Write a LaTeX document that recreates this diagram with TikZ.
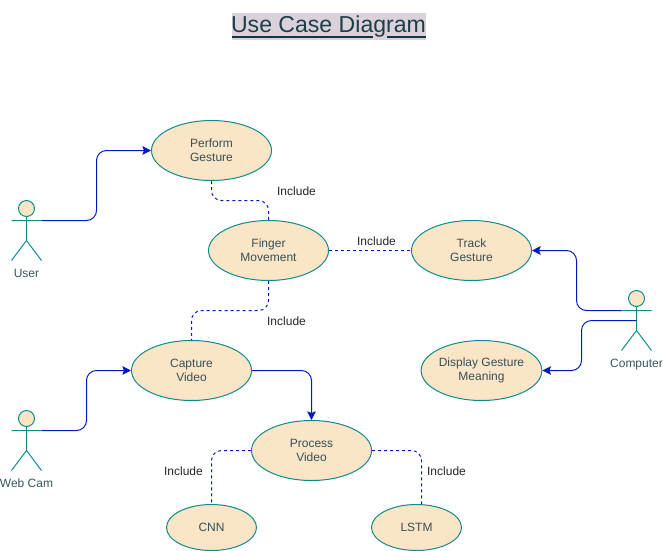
\documentclass[tikz,border=0pt]{standalone}
\usepackage{fontspec}
\setmainfont{Liberation Sans}
\usetikzlibrary{shapes.geometric,arrows.meta}
\definecolor{strokeT}{HTML}{0F8B8D}
\definecolor{fillT}{HTML}{FAE5C7}
\definecolor{textT}{HTML}{143642}
\definecolor{linkB}{HTML}{001DBC}
\definecolor{titleBg}{HTML}{DAD2D8}
\tikzset{
  x=0.75pt,y=-0.75pt,
  usecase/.style={ellipse,draw=strokeT,fill=fillT,line width=0.75pt,minimum width=90pt,minimum height=45pt,inner sep=0pt,align=center,text=textT,text opacity=0.85,font=\fontsize{9}{10.5}\selectfont},
  smallcase/.style={usecase,minimum width=67.5pt,minimum height=34.5pt},
  actorline/.style={draw=strokeT,line width=0.75pt},
  actorhead/.style={circle,draw=strokeT,fill=fillT,line width=0.75pt,minimum size=12pt,inner sep=0pt},
  actorlabel/.style={text=textT,text opacity=0.85,font=\fontsize{9}{10.5}\selectfont,inner sep=0pt,text height=6.6pt,text depth=1.9pt},
  flow/.style={draw=linkB,line width=0.75pt,rounded corners=7.5pt,-{Stealth[length=6.5pt,width=6.5pt,inset=1.2pt]}},
  incl/.style={draw=linkB,line width=0.75pt,rounded corners=7.5pt,dash pattern=on 2.25pt off 2.25pt},
  incllabel/.style={text=black,text opacity=0.85,font=\fontsize{9}{10.5}\selectfont,inner sep=0pt},
  titlerule/.style={draw=textT,line width=1.5pt}
}
\begin{document}
\begin{tikzpicture}
\useasboundingbox (-0.5,-0.5) rectangle (662.5,549.5);
% title
\fill[titleBg] (231,12) rectangle (425,39);
\node[text=textT,text opacity=0.95,font=\fontsize{17.3}{20}\selectfont,inner sep=0pt] (title) at (328,26.5) {Use Case Diagram};
\coordinate (ta) at (231,36); \coordinate (tb) at (372,36); \coordinate (tc) at (386,36); \coordinate (td) at (425,36);
\draw[titlerule] (ta) -- (tb);
\draw[titlerule] (tc) -- (td);
% use cases
\node[usecase] (perform) at (211,150) {Perform\\Gesture};
\node[usecase] (finger) at (268,250) {Finger\\Movement};
\node[usecase] (track) at (471,250) {Track\\Gesture};
\node[usecase] (display) at (481,370) {Display Gesture\\Meaning};
\node[usecase] (capture) at (191,370) {Capture\\Video};
\node[usecase] (process) at (311,450) {Process\\Video};
\node[smallcase] (cnn) at (211,527) {CNN};
\node[smallcase] (lstm) at (416,527) {LSTM};
% actors
\node[actorhead] (userhead) at (26,208) {};
\coordinate (userarmL) at (11,220); \coordinate (userarmR) at (41,220);
\coordinate (userhip) at (26,240); \coordinate (userfootL) at (11,260); \coordinate (userfootR) at (41,260);
\draw[actorline] (userhead) -- (userhip) -- (userfootL) (userhip) -- (userfootR) (userarmL) -- (userarmR);
\node[actorlabel] (userlabel) at (26,274) {User};
\node[actorhead] (camhead) at (26,418) {};
\coordinate (camarmL) at (11,430); \coordinate (camarmR) at (41,430);
\coordinate (camhip) at (26,450); \coordinate (camfootL) at (11,470); \coordinate (camfootR) at (41,470);
\draw[actorline] (camhead) -- (camhip) -- (camfootL) (camhip) -- (camfootR) (camarmL) -- (camarmR);
\node[actorlabel] (camlabel) at (26,484) {Web Cam};
\node[actorhead] (comphead) at (636,298) {};
\coordinate (comparmL) at (621,310); \coordinate (comparmR) at (651,310);
\coordinate (comphip) at (636,330); \coordinate (compfootL) at (621,350); \coordinate (compfootR) at (651,350);
\coordinate (compbody) at (636,320);
\draw[actorline] (comphead) -- (comphip) -- (compfootL) (comphip) -- (compfootR) (comparmL) -- (comparmR);
\node[actorlabel] (complabel) at (636,364) {Computer};
% solid connectors
\draw[flow] (userarmR) -- (96,220) -- (96,150) -- (perform.west);
\draw[flow] (camarmR) -- (86,430) -- (86,370) -- (capture.west);
\draw[flow] (capture.east) -- (311,370) -- (process.north);
\draw[flow] (comparmL) -- (576,310) -- (576,250) -- (track.east);
\draw[flow] (compbody) -- (581,320) -- (581,370) -- (display.east);
% include connectors
\draw[incl] (perform.south) -- (211,200) -- (268,200) -- (finger.north);
\draw[incl] (finger.east) -- (track.west);
\draw[incl] (finger.south) -- (268,310) -- (191,310) -- (capture.north);
\draw[incl] (process.west) -- (211,450) -- (cnn.north);
\draw[incl] (process.east) -- (421,450) -- (lstm.north -| 421,450);
% include labels
\node[incllabel] (inc1) at (296,191) {Include};
\node[incllabel] (inc2) at (376,241) {Include};
\node[incllabel] (inc3) at (286,321) {Include};
\node[incllabel] (inc4) at (183,471) {Include};
\node[incllabel] (inc5) at (446,471) {Include};
\end{tikzpicture}
\end{document}
